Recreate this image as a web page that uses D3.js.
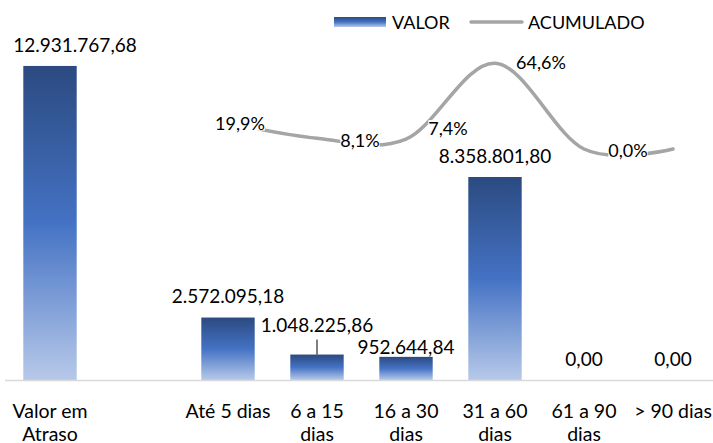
<!DOCTYPE html>
<html><head><meta charset="utf-8">
<script src="https://cdn.jsdelivr.net/npm/d3@7"></script>
<style>
html,body{margin:0;padding:0;background:#fff;}
svg text{font-family:Lato, "Open Sans", sans-serif;fill:#000;}
</style></head>
<body>
<svg id="chart" width="713" height="443"></svg>
<script>
const categories = ["Valor em Atraso", " ", "Até 5 dias", "6 a 15 dias", "16 a 30 dias", "31 a 60 dias", "61 a 90 dias", "> 90 dias"];
const categoryLines = [["Valor em","Atraso"], [], ["Até 5 dias"], ["6 a 15","dias"], ["16 a 30","dias"], ["31 a 60","dias"], ["61 a 90","dias"], ["> 90 dias"]];
const valor = [12931767.68, null, 2572095.18, 1048225.86, 952644.84, 8358801.80, 0, 0];
const acumulado = [null, null, 19.9, 8.1, 7.4, 64.6, 0.0, 0.0];
const acumuladoLabelShown = [false, false, true, true, true, true, true, false];
const seriesNames = ["VALOR", "ACUMULADO"];

const svg = d3.select("#chart");
const fsPct = 18, fsBar = 19, fsCat = 19.5, fsLeg = 18;

const x = d3.scalePoint().domain(categories).range([50, 673]);
const step = x.step();
const barW = step * 0.6;
const y = d3.scaleLinear().domain([0, 14000000]).range([380, 40]);
const yp = d3.scaleLinear().domain([0, 70]).range([149, 56]);

const defs = svg.append("defs");
function addGrad(id) {
  const g = defs.append("linearGradient").attr("id", id).attr("x1",0).attr("y1",0).attr("x2",0).attr("y2",1);
  g.append("stop").attr("offset","0%").attr("stop-color","#2b4a80");
  g.append("stop").attr("offset","50%").attr("stop-color","#4472c4");
  g.append("stop").attr("offset","100%").attr("stop-color","#b7c9e9");
}
addGrad("barGrad"); addGrad("legGrad");

const fmtBR = v => {
  const s = d3.format(",.2f")(v);
  return s.replace(/,/g,"#").replace(/\./g,",").replace(/#/g,".");
};
const fmtPct = v => d3.format(".1f")(v).replace(".", ",") + "%";

// bars
const barData = categories.map((c,i)=>({c, v: valor[i], i})).filter(d => d.v !== null);
svg.append("g").selectAll("rect").data(barData).join("rect")
  .attr("x", d => x(d.c) - barW/2)
  .attr("y", d => y(d.v))
  .attr("width", barW)
  .attr("height", d => y(0) - y(d.v))
  .attr("fill", "url(#barGrad)");

// axis baseline
const xAxis = d3.axisBottom(x).tickSize(0).tickFormat("");
const ax = svg.append("g").attr("transform", `translate(0,${y(0)})`).call(xAxis);
ax.select(".domain").attr("d", `M5,0.5H713`).attr("stroke", "#d9d9d9").attr("stroke-width", 1.5);

// category labels
const catG = svg.append("g");
categories.forEach((c,i) => {
  categoryLines[i].forEach((ln, j) => {
    catG.append("text").attr("x", x(c)).attr("y", 410 + j*23)
      .attr("text-anchor","middle").attr("dominant-baseline","central")
      .attr("font-size", fsCat).text(ln);
  });
});

// bar value labels
const barLabelNudge = {0: [25, 1], 4: [0, 12]};
const blG = svg.append("g");
barData.forEach(d => {
  const n = barLabelNudge[d.i] || [0, 0];
  if (d.i === 3) {
    blG.append("line").attr("x1", x(d.c)).attr("x2", x(d.c))
      .attr("y1", y(d.v) - 15).attr("y2", y(d.v)).attr("stroke", "#000").attr("stroke-width", 1);
    blG.append("text").attr("x", x(d.c)).attr("y", y(d.v) - 30)
      .attr("text-anchor","middle").attr("dominant-baseline","central").attr("font-size", fsBar).text(fmtBR(d.v));
  } else {
    blG.append("text").attr("x", x(d.c) + n[0]).attr("y", y(d.v) - 22 + n[1])
      .attr("text-anchor","middle").attr("dominant-baseline","central").attr("font-size", fsBar).text(fmtBR(d.v));
  }
});

// line
const lineData = categories.map((c,i)=>({c, v: acumulado[i], i})).filter(d => d.v !== null);
const line = d3.line().x(d => x(d.c)).y(d => yp(d.v)).curve(d3.curveCardinal.tension(0));
svg.append("path").datum(lineData).attr("d", line)
  .attr("fill","none").attr("stroke","#a5a5a5").attr("stroke-width",3.5).attr("stroke-linecap","round");

// percent labels
const pctNudge = {2: [12, 0], 3: [43, 2], 4: [42, -11], 5: [46, -1], 6: [44, 1]};
const plG = svg.append("g");
lineData.filter(d => acumuladoLabelShown[d.i]).forEach(d => {
  const n = pctNudge[d.i] || [44, 0];
  const t = plG.append("text").attr("x", x(d.c) + n[0]).attr("y", yp(d.v) + n[1])
    .attr("text-anchor","middle").attr("dominant-baseline","central").attr("font-size", fsPct).text(fmtPct(d.v));
  const bb = t.node().getBBox();
  plG.insert("rect", "text").attr("x", bb.x).attr("y", bb.y + 3).attr("width", bb.width).attr("height", bb.height - 6).attr("fill", "#fff");
});

// legend
const lg = svg.append("g");
lg.append("rect").attr("x", 334).attr("y", 17).attr("width", 52).attr("height", 10).attr("fill", "url(#legGrad)");
lg.append("text").attr("x", 392).attr("y", 22).attr("dominant-baseline","central").attr("font-size", fsLeg).text(seriesNames[0]);
lg.append("line").attr("x1", 471).attr("x2", 522).attr("y1", 22).attr("y2", 22)
  .attr("stroke","#a5a5a5").attr("stroke-width",3.5).attr("stroke-linecap","round");
lg.append("text").attr("x", 528).attr("y", 22).attr("dominant-baseline","central").attr("font-size", fsLeg).text(seriesNames[1]);
</script>
</body></html>
